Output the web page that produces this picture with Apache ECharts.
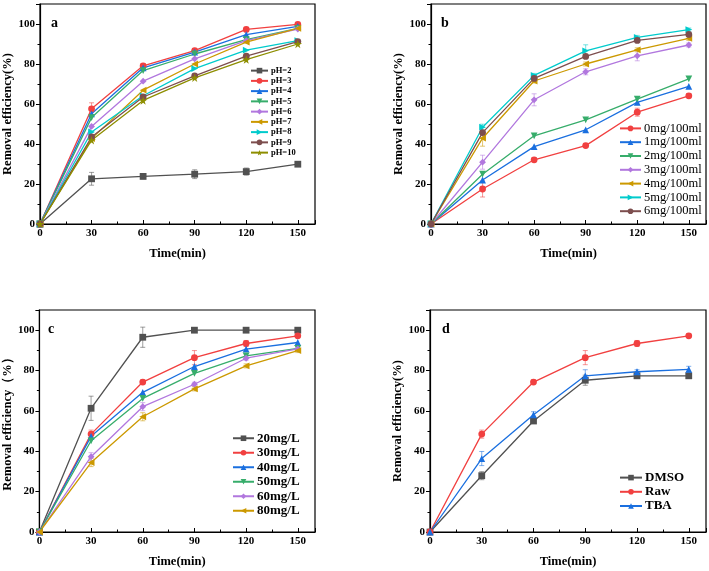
<!DOCTYPE html>
<html><head><meta charset="utf-8">
<script src="https://cdn.jsdelivr.net/npm/echarts@6/dist/echarts.min.js"></script>
<style>html,body{margin:0;padding:0;background:#fff}#c{width:709px;height:571px}</style>
</head><body><div id="c"></div>
<script>
const times = [0, 30, 60, 90, 120, 150];

// Panel a: pH
const namesA = ['pH=2','pH=3','pH=4','pH=5','pH=6','pH=7','pH=8','pH=9','pH=10'];
const pH2  = [0, 22.6, 23.8, 24.9, 26.2, 29.9];
const pH3  = [0, 57.6, 79.1, 86.7, 97.3, 99.8];
const pH4  = [0, 55.1, 78.1, 85.9, 94.7, 98.8];
const pH5  = [0, 53.2, 76.7, 85.0, 92.2, 97.8];
const pH6  = [0, 48.8, 71.4, 82.6, 91.7, 97.5];
const pH7  = [0, 42.7, 66.9, 80.0, 90.9, 97.8];
const pH8  = [0, 46.0, 64.1, 77.7, 86.9, 91.7];
const pH9  = [0, 43.5, 63.5, 74.1, 83.9, 91.2];
const pH10 = [0, 41.9, 61.8, 73.1, 82.2, 90.0];
const errPH2 = [0, 3.2, 1.2, 2.2, 1.8, 0.8];
const errPH3 = [0, 3.0, 1.0, 1.0, 0.8, 0.5];

// Panel b: dosage
const namesB = ['0mg/100ml','1mg/100ml','2mg/100ml','3mg/100ml','4mg/100ml','5mg/100ml','6mg/100ml'];
const d0 = [0, 17.5, 32.1, 39.2, 55.9, 64.1];
const d1 = [0, 22.0, 38.7, 47.1, 60.8, 68.8];
const d2 = [0, 24.9, 44.1, 52.1, 62.4, 72.6];
const d3 = [0, 30.9, 62.1, 76.1, 84.1, 89.5];
const d4 = [0, 42.9, 71.5, 80.0, 87.1, 92.8];
const d5 = [0, 48.4, 74.3, 86.6, 93.3, 97.2];
const d6 = [0, 45.7, 72.8, 83.8, 91.8, 94.8];
const errD0 = [0, 4.0, 1.0, 0.8, 2.0, 1.0];
const errD3 = [0, 3.5, 3.0, 1.5, 2.5, 1.0];
const errD4 = [0, 4.0, 1.0, 1.0, 1.0, 1.0];
const errD5 = [0, 1.5, 1.0, 3.0, 1.0, 0.8];

// Panel c: concentration
const namesC = ['20mg/L','30mg/L','40mg/L','50mg/L','60mg/L','80mg/L'];
const c20 = [0, 61.3, 96.5, 100, 100, 100];
const c30 = [0, 48.5, 74.3, 86.4, 93.4, 97.2];
const c40 = [0, 47.4, 69.2, 82.0, 90.6, 93.9];
const c50 = [0, 45.2, 66.2, 78.6, 87.3, 91.0];
const c60 = [0, 37.3, 62.1, 73.2, 86.1, 90.7];
const c80 = [0, 34.4, 57.1, 70.9, 82.3, 89.9];
const errC20 = [0, 6.0, 5.0, 0, 0, 0];
const errC30 = [0, 2.0, 1.0, 3.5, 1.5, 0.8];
const errC60 = [0, 2.0, 2.0, 1.0, 1.0, 1.0];
const errC80 = [0, 2.0, 2.0, 1.0, 1.0, 1.0];

// Panel d: scavengers
const namesD = ['DMSO','Raw','TBA'];
const dmso = [0, 27.9, 55.0, 75.2, 77.4, 77.4];
const raw  = [0, 48.5, 74.3, 86.4, 93.4, 97.2];
const tba  = [0, 36.4, 58.1, 77.4, 79.4, 80.6];
const errDMSO = [0, 2.0, 1.0, 2.5, 1.0, 1.0];
const errRaw  = [0, 2.0, 1.0, 3.5, 1.5, 0.8];
const errTBA  = [0, 3.5, 1.5, 3.0, 1.0, 1.5];

const FONT = '"Liberation Serif","Times New Roman",serif';
const COL = {gray:'#515151', red:'#F14040', blue:'#1A6FDF', green:'#37AD6B', violet:'#B177DE',
  gold:'#CC9900', cyan:'#00CBCC', brown:'#7D4E4E', olive:'#8E8E00'};
const STAR = 'path://M50,0 L61,35 L98,35 L68,57 L79,91 L50,70 L21,91 L32,57 L2,35 L39,35 Z';

function pairs(vals){ return times.map((t,i)=>[t, vals[i]]); }
function line(name, vals, color, symbol, rot, g){
  return {type:'line', name, data:pairs(vals), xAxisIndex:g, yAxisIndex:g,
    symbol, symbolRotate:rot, symbolSize: symbol===STAR?8.5:6.8, showSymbol:true,
    itemStyle:{color}, lineStyle:{color, width:1.3}, z:3, animation:false};
}
function errs(vals, e, color, g){
  return {type:'custom', xAxisIndex:g, yAxisIndex:g, z:2, animation:false, silent:true,
    itemStyle:{color}, data: times.map((t,i)=>[t, vals[i], e[i]]),
    renderItem:function(params, api){
      const x=api.value(0), y=api.value(1), e=api.value(2);
      if(!e) return null;
      const lo=api.coord([x,y-e]), hi=api.coord([x,y+e]);
      const st={stroke:color, opacity:0.55, lineWidth:1};
      return {type:'group', children:[
        {type:'line', shape:{x1:lo[0],y1:lo[1],x2:hi[0],y2:hi[1]}, style:st},
        {type:'line', shape:{x1:lo[0]-2.5,y1:lo[1],x2:lo[0]+2.5,y2:lo[1]}, style:st},
        {type:'line', shape:{x1:hi[0]-2.5,y1:hi[1],x2:hi[0]+2.5,y2:hi[1]}, style:st}]};
    }};
}

const grids = [
  {left:40, top:4, width:275, height:220},
  {left:431, top:4, width:275, height:220},
  {left:39, top:310, width:276, height:222},
  {left:430, top:310, width:276, height:222}
].map(g=>Object.assign({show:true, borderColor:'#000', borderWidth:1.2, backgroundColor:'transparent'}, g));

const yTitles = ['Removal efficiency(%)','Removal efficiency(%)','Removal efficiency（%）','Removal efficiency(%)'];
const axisText = {fontFamily:FONT, fontWeight:'bold', color:'#000'};
const xAxes = grids.map((g,i)=>({gridIndex:i, type:'value', min:0, max:160, interval:30,
  axisLine:{show:true, onZero:false, lineStyle:{color:'#000', width:1.2}},
  axisTick:{show:true, inside:true, length:4, lineStyle:{color:'#000'}},
  minorTick:{show:true, splitNumber:2, length:2.5, lineStyle:{color:'#000'}},
  splitLine:{show:false},
  axisLabel:Object.assign({fontSize:11, margin:4, showMaxLabel:false}, axisText),
  name:'Time(min)', nameLocation:'middle', nameGap:23,
  nameTextStyle:Object.assign({fontSize:12.5}, axisText)}));
const yAxes = grids.map((g,i)=>({gridIndex:i, type:'value', min:0, max:110, interval:20,
  axisLine:{show:true, onZero:false, lineStyle:{color:'#000', width:1.2}},
  axisTick:{show:true, inside:false, length:4, lineStyle:{color:'#000'}},
  minorTick:{show:true, splitNumber:2, length:2.5, lineStyle:{color:'#000'}},
  splitLine:{show:false},
  axisLabel:Object.assign({fontSize:11, margin:5, showMaxLabel:false}, axisText),
  name:yTitles[i], nameLocation:'middle', nameGap:i===2?24:22,
  nameTextStyle:Object.assign({fontSize:12.5}, axisText)}));

const series = [
  line('pH=2', pH2, COL.gray, 'rect', 0, 0),
  line('pH=3', pH3, COL.red, 'circle', 0, 0),
  line('pH=4', pH4, COL.blue, 'triangle', 0, 0),
  line('pH=5', pH5, COL.green, 'triangle', 180, 0),
  line('pH=6', pH6, COL.violet, 'diamond', 0, 0),
  line('pH=7', pH7, COL.gold, 'triangle', 90, 0),
  line('pH=8', pH8, COL.cyan, 'triangle', -90, 0),
  line('pH=9', pH9, COL.brown, 'circle', 0, 0),
  line('pH=10', pH10, COL.olive, STAR, 0, 0),
  errs(pH2, errPH2, COL.gray, 0),
  errs(pH3, errPH3, COL.red, 0),

  line('0mg/100ml', d0, COL.red, 'circle', 0, 1),
  line('1mg/100ml', d1, COL.blue, 'triangle', 0, 1),
  line('2mg/100ml', d2, COL.green, 'triangle', 180, 1),
  line('3mg/100ml', d3, COL.violet, 'diamond', 0, 1),
  line('4mg/100ml', d4, COL.gold, 'triangle', 90, 1),
  line('5mg/100ml', d5, COL.cyan, 'triangle', -90, 1),
  line('6mg/100ml', d6, COL.brown, 'circle', 0, 1),
  errs(d0, errD0, COL.red, 1),
  errs(d3, errD3, COL.violet, 1),
  errs(d4, errD4, COL.gold, 1),
  errs(d5, errD5, COL.cyan, 1),

  line('20mg/L', c20, COL.gray, 'rect', 0, 2),
  line('30mg/L', c30, COL.red, 'circle', 0, 2),
  line('40mg/L', c40, COL.blue, 'triangle', 0, 2),
  line('50mg/L', c50, COL.green, 'triangle', 180, 2),
  line('60mg/L', c60, COL.violet, 'diamond', 0, 2),
  line('80mg/L', c80, COL.gold, 'triangle', 90, 2),
  errs(c20, errC20, COL.gray, 2),
  errs(c30, errC30, COL.red, 2),
  errs(c60, errC60, COL.violet, 2),
  errs(c80, errC80, COL.gold, 2),

  line('DMSO', dmso, COL.gray, 'rect', 0, 3),
  line('Raw', raw, COL.red, 'circle', 0, 3),
  line('TBA', tba, COL.blue, 'triangle', 0, 3),
  errs(dmso, errDMSO, COL.gray, 3),
  errs(raw, errRaw, COL.red, 3),
  errs(tba, errTBA, COL.blue, 3)
];

function legend(names, left, top, itemW, fs, lh, bold){
  return {data:names, orient:'vertical', left, top, itemWidth:itemW, itemHeight:7, itemGap:0,
    padding:0, selectedMode:false,
    textStyle:{fontFamily:FONT, fontSize:fs, lineHeight:lh, fontWeight:bold?'bold':'normal', color:'#000', padding:[0,0,0,-2]}};
}

const labels = [['a',51,24],['b',441,24],['c',48,330],['d',442,330]];

const chart = echarts.init(document.getElementById('c'), null, {renderer:'canvas'});
chart.setOption({
  backgroundColor:'#fff', animation:false,
  grid:grids, xAxis:xAxes, yAxis:yAxes, series,
  legend:[
    legend(namesA, 250, 65.5, 17, 8.5, 10.25, true),
    legend(namesB, 619, 121.5, 21, 12.5, 13.8, false),
    legend(namesC, 232, 431, 21, 13, 14.5, true),
    legend(namesD, 619, 470.5, 22, 13, 14.2, true)
  ],
  graphic: labels.map(l=>({type:'text', left:l[1], top:l[2]-8, z:10,
    style:{text:l[0], fontFamily:FONT, fontWeight:'bold', fontSize:14, fill:'#000'}}))
});
</script></body></html>
